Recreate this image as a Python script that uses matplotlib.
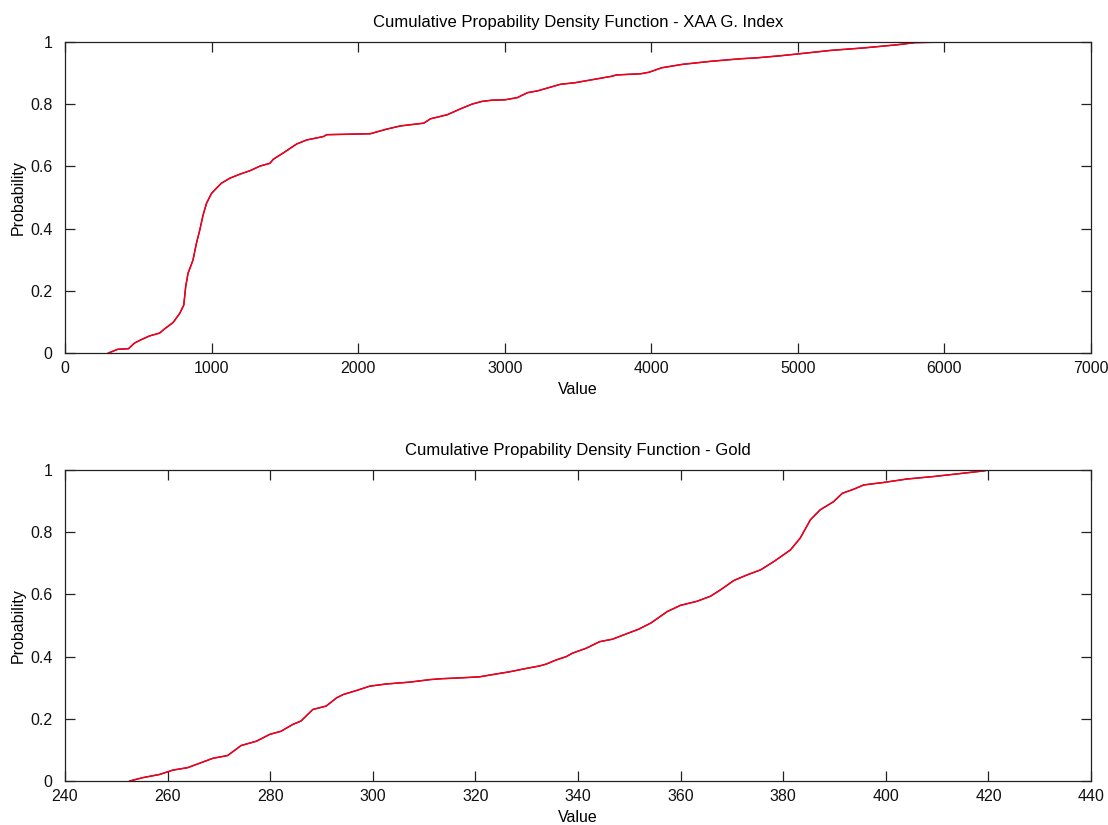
import matplotlib
matplotlib.use('Agg')
import matplotlib.pyplot as plt
import numpy as np

plt.rcParams['font.family'] = ['Liberation Sans', 'DejaVu Sans']

# XAA G. Index cdf (value, probability)
xaa_value = [296, 360, 433, 474, 520, 577, 645, 680, 737, 782, 810, 823, 839, 873,
             896, 919, 942, 965, 999, 1033, 1067, 1124, 1193, 1261, 1330, 1398, 1421,
             1501, 1580, 1649, 1763, 1786, 2082, 2196, 2287, 2356, 2447, 2493, 2607,
             2698, 2775, 2845, 2915, 3000, 3085, 3155, 3225, 3380, 3479, 3732, 3761,
             3930, 3986, 4070, 4211, 4408, 4606, 4718, 4887, 5028, 5225, 5366, 5451,
             5676, 5800, 6028, 6338]
xaa_prob = [0.0, 0.012, 0.014, 0.032, 0.043, 0.055, 0.064, 0.078, 0.098, 0.127, 0.154,
            0.213, 0.256, 0.299, 0.352, 0.395, 0.444, 0.481, 0.513, 0.530, 0.546, 0.562,
            0.575, 0.586, 0.601, 0.610, 0.623, 0.647, 0.672, 0.685, 0.696, 0.702, 0.705,
            0.720, 0.730, 0.734, 0.739, 0.753, 0.766, 0.785, 0.800, 0.809, 0.813, 0.814,
            0.821, 0.837, 0.843, 0.864, 0.869, 0.890, 0.894, 0.898, 0.903, 0.917, 0.928,
            0.938, 0.946, 0.949, 0.956, 0.963, 0.973, 0.978, 0.981, 0.991, 0.998, 1.0, 1.0]

# Gold cdf (value, probability)
gold_value = [252.6, 255.2, 258.4, 261.0, 263.9, 266.2, 268.8, 271.7, 274.3, 277.3,
              279.9, 282.1, 284.4, 286.0, 288.3, 290.9, 292.9, 294.2, 296.8, 299.4,
              302.6, 307.2, 311.1, 313.4, 317.5, 320.8, 324.7, 326.6, 329.9, 332.5,
              333.8, 335.7, 337.7, 338.9, 341.6, 344.2, 346.7, 349.4, 351.8, 354.2,
              357.4, 360.0, 363.2, 365.8, 367.8, 370.4, 373.0, 375.6, 378.2, 381.4,
              383.3, 385.3, 387.2, 389.8, 391.5, 393.7, 395.7, 399.6, 404.1, 409.3,
              415.8, 419.0, 420.0, 423.2]
gold_prob = [0.0, 0.011, 0.021, 0.035, 0.043, 0.057, 0.073, 0.082, 0.114, 0.128, 0.150,
             0.160, 0.182, 0.193, 0.230, 0.241, 0.267, 0.278, 0.291, 0.305, 0.312, 0.318,
             0.326, 0.329, 0.332, 0.335, 0.346, 0.351, 0.362, 0.370, 0.376, 0.389, 0.400,
             0.411, 0.427, 0.448, 0.456, 0.473, 0.488, 0.508, 0.545, 0.565, 0.578, 0.594,
             0.615, 0.645, 0.663, 0.679, 0.706, 0.743, 0.781, 0.840, 0.872, 0.898, 0.925,
             0.938, 0.952, 0.960, 0.971, 0.979, 0.991, 0.997, 1.0, 1.0]

xaa_ticks = [0, 1000, 2000, 3000, 4000, 5000, 6000, 7000]
gold_ticks = [240, 260, 280, 300, 320, 340, 360, 380, 400, 420, 440]
prob_ticks = [0, 0.2, 0.4, 0.6, 0.8, 1]
prob_labels = ['0', '0.2', '0.4', '0.6', '0.8', '1']

fig = plt.figure(figsize=(11.08, 8.25), dpi=100)
ax1 = fig.add_axes([0.0587, 0.5721, 0.926, 0.377])
ax2 = fig.add_axes([0.0587, 0.0533, 0.926, 0.377])

fs = 11.5


def style(ax, title, xticks, xlim):
    ax.set_xlim(xlim)
    ax.set_ylim(0, 1)
    ax.set_xticks(xticks)
    ax.set_xticklabels([str(t) for t in xticks])
    ax.set_yticks(prob_ticks)
    ax.set_yticklabels(prob_labels)
    ax.tick_params(direction='in', length=7, width=0.9, top=True, right=True,
                   labelsize=fs, colors='#222222', labelcolor='#111111')
    ax.tick_params(axis='x', pad=6)
    ax.tick_params(axis='y', pad=9)
    for s in ax.spines.values():
        s.set_color('#222222')
        s.set_linewidth(0.9)
    ax.set_title(title, fontsize=12, pad=11)
    ax.set_xlabel('Value', fontsize=fs, labelpad=4)
    ax.set_ylabel('Probability', fontsize=fs, labelpad=3)


# blue: empirical cdf, red: fitted curve drawn on top
ax1.plot(xaa_value, xaa_prob, color='blue', lw=0.9)
ax1.plot(xaa_value, xaa_prob, color='red', lw=1.1)
style(ax1, 'Cumulative Propability Density Function - XAA G. Index', xaa_ticks, (0, 7000))

ax2.plot(gold_value, gold_prob, color='blue', lw=0.9)
ax2.plot(gold_value, gold_prob, color='red', lw=1.1)
style(ax2, 'Cumulative Propability Density Function - Gold', gold_ticks, (240, 440))

fig.savefig('out.png', dpi=100)
